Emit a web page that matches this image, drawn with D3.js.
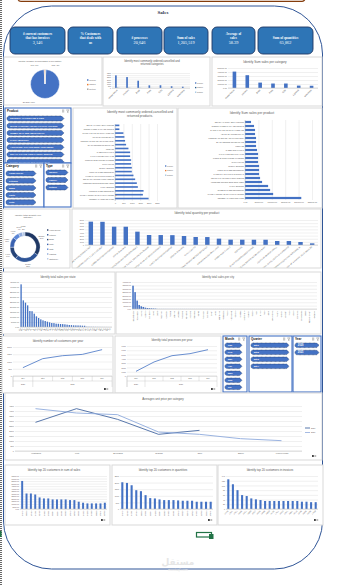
<!DOCTYPE html>
<html><head><meta charset="utf-8">
<script src="https://cdn.jsdelivr.net/npm/d3@7"></script>
<style>body{margin:0;background:#fff}svg{display:block}</style>
</head><body><svg id="c" width="357" height="586"></svg>
<script>
// ---------------- DATA ----------------
const kpiLines=[["# current customers","that has invoices"],["% Customers","that deals with","us"],["# processes"],["Sum of sales"],["Average of","sales"],["Sum of quantities"]];
const kpiValues=["3,146","","20,646","1,205,519","58.39","65,862"];
const processTypes=["Invoice","Cancel","Return"];
const processCounts=[20275,190,181];
const categories=["Home Decor","Kitchen","Bags","Party","Gifts","Lighting","Stationery"];
const catOrdered=[2950,2550,1700,620,640,400,300];
const catCancelled=[60,45,30,12,10,8,6];
const catReturned=[40,35,25,10,9,6,5];
const catSales=[410000,320000,135000,112000,112000,60000,56000];
const catQty=[22350,17800,9100,7250,4600,2900,1862];
const priceCategories=["Vegetables","Fruit","Beverages","Seafood","Dairy","Bakery","Frozen Foods"];
const avgPrice2020=[2867,4233,3167,1667,2067,null,null];
const avgPrice2021=[4233,3800,3633,1900,1667,1233,1033];
const products=["REGENCY CAKESTAND 3 TIER","WHITE HANGING HEART T-LIGHT HOLDER","JUMBO BAG RED RETROSPOT","PARTY BUNTING","ASSORTED COLOUR BIRD ORNAMENT","SET OF 3 CAKE TINS PANTRY DESIGN","PAPER CHAIN KIT 50'S CHRISTMAS","LUNCH BAG RED RETROSPOT","SPOTTY BUNTING","CHILLI LIGHTS","PICNIC BASKET WICKER 60 PIECES","JAM MAKING SET WITH JARS","RABBIT NIGHT LIGHT","POSTAGE","BLACK RECORD COVER FRAME","WOOD BLACK BOARD ANT WHITE FINISH","HEART OF WICKER SMALL","NATURAL SLATE HEART CHALKBOARD","DOORMAT KEEP CALM AND COME IN","SET OF 4 PANTRY JELLY MOULDS"];
const prodOrdered=[2000,1660,1700,1360,1300,1200,1100,1000,1000,960,960,900,900,800,660,600,560,500,260,260];
const prodCancelled=[20,100,15,10,10,8,8,6,6,5,5,5,4,4,3,3,2,2,1,1];
const prodReturned=[15,12,10,9,8,7,6,5,5,4,4,4,3,3,3,2,2,2,1,1];
const prodSales=[210000,105000,93750,86250,63750,56250,52500,52500,52500,48750,48750,48750,45000,41250,41250,41250,37500,37500,33750,22500];
const prodQty=[7470,7420,5870,5850,4270,3200,3180,3150,2880,2560,2540,2030,1710,1700,1690,1680,1280,1270,960,530];
const states=["CA","NY","TX","WA","PA","FL","IL","OH","MI","VA","NC","IN","GA","KY","NJ","AZ","WI","CO","TN","MN","MA","DE","MD","RI","MO","OK","AL","OR","NV","CT","AR","UT","MS","LA","SC","NM","IA","NH","KS","ID","NE","VT"];
const stateSales=[426600,266600,243300,216600,160000,158000,133300,106600,90000,76600,66600,60000,53300,46600,40000,39000,33300,32000,30000,29000,26600,23300,20000,19000,16600,16000,15500,15000,13300,12500,3000,2500,2000,1800,1500,1200,1000,800,600,500,300,200];
const cities=["New York City","Los Angeles","Philadelphia","San Francisco","Seattle","Houston","Chicago","Columbus","San Diego","Springfield","Dallas","Jacksonville","Detroit","Newark","Richmond","Jackson","Columbia","Aurora","Phoenix","Long Beach","Arlington","San Antonio","Louisville","Miami","Rochester","Charlotte","Henderson","Lakewood","Lancaster","Fairfield","Milwaukee","Lawrence","Denver","Baltimore","Pasadena","Cleveland","San Jose","Fayetteville","Salem","Atlanta","Austin","Franklin","Wilmington","Tampa","Providence","Concord","Toledo","Memphis","Minneapolis","Tucson","Orlando","Omaha","Knoxville","Fort Worth","Sacramento","Portland","Oakland","Tulsa","Fresno","Raleigh","Mesa","Madison","Buffalo","Durham","Reno","Boise","Akron","Dayton","Albuquerque","Spokane","Tacoma","Irving","Garland","Lincoln","Anaheim","Hialeah","Plano","Chandler","Laredo","Glendale","Scottsdale","Norfolk","Chesapeake","Lubbock","Gilbert","Irvine","Winston-Salem","Stockton","Hollywood","Yonkers"];
const citySales=[345000,250000,125000,60000,40000,30000,20000,15000,12000,10000,8000,6000,1900,1800,1700,1650,1600,1520,1480,1450,1400,1350,1300,1270,1240,1200,1160,1120,1100,1060,1020,990,960,930,900,880,860,830,810,790,770,750,730,700,690,670,650,620,600,590,570,550,530,510,490,470,450,430,410,390,370,360,340,320,300,290,270,250,240,220,210,200,180,170,160,150,140,130,120,110,100,95,90,80,75,70,60,55,50,40];
const periods=["Qtr4","Qtr1","Qtr2","Qtr3","Qtr4"];
const periodYears=["2020","2021","2021","2021","2021"];
const customersPerPeriod=[575,1195,1400,1490,1816];
const processesPerPeriod=[1090,3270,4740,5210,6140];
const months=["Jan","Feb","Mar","Apr","May","Jun","Jul"];
const quarters=["Qtr1","Qtr2","Qtr3","Qtr4"];
const years=["2020","2021"];
const topSalesCustomers=["14646","18102","17450","14911","12415","14156","17511","16684","13694","15311","13089","17949","15769","15061","14096","14298","14088","15838","17841","13798"];
const topSalesValues=[55250,30550,30550,28600,22750,20800,20800,18850,18850,18850,18850,17550,17550,14300,12350,11050,11050,11050,11050,12350];
const topQtyCustomers=["14646","12415","14911","17450","18102","17511","13694","14298","16684","13089","14156","15311","17949","16029","12346","15769","14096","13798","16333","17841"];
const topQtyValues=[2025,1975,1800,1425,1350,1050,825,800,725,675,675,675,650,625,625,625,550,550,550,550];
const topInvCustomers=["12748","17841","14911","14606","15311","13089","14527","14646","13408","16029","14156","17511","16422","12971","15061","18118","13798","15838","14298","17450"];
const topInvValues=[126,105,80,59,55,45,41,38,34,34,34,34,34,34,34,34,31,31,29,29];

// ---------------- SETUP ----------------
const W=357,H=586;
const svg=d3.select('#c');
const FONT='"Liberation Sans", Arial, sans-serif';
const SERIF='"Liberation Serif","Times New Roman",serif';
const BLUE='#4472c4', GRID='#d9d9d9', TXT='#595959';
const seriesCols=['#4472c4','#255e91','#9dc3e6'];
const fmt2=d3.format('.2f'), fmtD=d3.format('d'), fmtC=d3.format(',');
const defs=svg.append('defs');
let clipN=0;
function clip(x,y,w,h){const id='cl'+(clipN++);defs.append('clipPath').attr('id',id).attr('clipPathUnits','userSpaceOnUse').append('rect').attr('x',x).attr('y',y).attr('width',w).attr('height',h);return `url(#${id})`;}

function panel(x,y,w,h){svg.append('rect').attr('x',x).attr('y',y).attr('width',w).attr('height',h).attr('fill','#fff').attr('stroke','#d9d9d9').attr('stroke-width',1);}
function ptitle(cx,y,lines,fs){lines.forEach((l,i)=>svg.append('text').attr('x',cx).attr('y',y+i*fs*1.2).attr('text-anchor','middle').attr('font-family',FONT).attr('font-size',fs).attr('fill',TXT).text(l));}
function styleAxis(g,fs){g.attr('font-family',FONT);g.select('.domain').remove();g.selectAll('line').attr('stroke',GRID).attr('stroke-width',0.4);g.selectAll('text').attr('font-size',fs).attr('fill',TXT);}
function xLabels(xs,y,fs,rot,every,fmt,cp){
  const ax=d3.axisBottom(xs).tickSize(0).tickPadding(0);
  if(every>1) ax.tickValues(xs.domain().filter((d,i)=>i%every===0));
  if(fmt) ax.tickFormat(fmt);
  const outer=svg.append('g');
  if(cp) outer.attr('clip-path',cp);
  const g=outer.append('g').attr('transform',`translate(0,${y})`).call(ax);
  styleAxis(g,fs);
  if(rot){g.selectAll('text').attr('y',0).attr('x',-0.4).attr('dy','0.35em').attr('text-anchor','end').attr('transform',`translate(0,0.8) rotate(${rot})`);}
  else g.selectAll('text').attr('dy','1.1em');
}
function vbar(o){
  const xs=d3.scaleBand().domain(o.cats).range([o.x,o.x+o.w]).paddingInner(o.pi).paddingOuter(o.pi/2);
  const ys=d3.scaleLinear().domain([0,o.max]).range([o.y+o.h,o.y]);
  const ga=svg.append('g').attr('transform',`translate(${o.x},0)`).call(d3.axisLeft(ys).tickValues(d3.range(0,o.max+o.step/2,o.step)).tickSize(-o.w).tickPadding(1).tickFormat(o.fmt));
  styleAxis(ga,o.yfs);
  const n=o.series.length;
  const sub=d3.scaleBand().domain(d3.range(n)).range([0,xs.bandwidth()]);
  o.series.forEach((s,si)=>{
    svg.append('g').selectAll('rect').data(s.vals).join('rect')
      .attr('x',(v,i)=>xs(o.cats[i])+sub(si)).attr('width',sub.bandwidth())
      .attr('y',v=>ys(v)).attr('height',v=>ys(0)-ys(v)).attr('fill',s.color);
  });
  svg.append('line').attr('x1',o.x).attr('x2',o.x+o.w).attr('y1',ys(0)).attr('y2',ys(0)).attr('stroke','#bfbfbf').attr('stroke-width',0.5);
  xLabels(xs,o.y+o.h+0.6,o.xfs,o.rot,o.every||1,null,o.cp);
}
function hbar(o){
  const ys=d3.scaleBand().domain(o.cats.slice().reverse()).range([o.y,o.y+o.h]).paddingInner(o.pi).paddingOuter(o.pi/2);
  const xs=d3.scaleLinear().domain([0,o.max]).range([o.x,o.x+o.w]);
  const ga=svg.append('g').attr('transform',`translate(0,${o.y+o.h})`).call(d3.axisBottom(xs).tickValues(d3.range(0,o.max+o.step/2,o.step)).tickSize(-o.h).tickPadding(1.5).tickFormat(o.fmt));
  styleAxis(ga,o.xfs);
  ga.selectAll('text').attr('dy','0.9em');
  const n=o.series.length;
  const main=o.mainFrac||1/n;
  // first series gets 'main' share of band, others split the rest
  const bw=ys.bandwidth();
  o.series.forEach((s,si)=>{
    const off=si===0?0:bw*main+(si-1)*bw*(1-main)/(n-1);
    const hh=si===0?bw*main:bw*(1-main)/(n-1);
    svg.append('g').selectAll('rect').data(s.vals).join('rect')
      .attr('y',(v,i)=>ys(o.cats[i])+off).attr('height',hh)
      .attr('x',xs(0)).attr('width',v=>xs(v)-xs(0)).attr('fill',s.color);
  });
  svg.append('line').attr('x1',xs(0)).attr('x2',xs(0)).attr('y1',o.y).attr('y2',o.y+o.h).attr('stroke','#bfbfbf').attr('stroke-width',0.5);
  const gl=svg.append('g').attr('transform',`translate(${o.x-0.5},0)`).call(d3.axisLeft(ys).tickSize(0).tickPadding(0.5));
  styleAxis(gl,o.lfs);
}
function legend(x,y,labels,cols,fs,step){
  labels.forEach((l,i)=>{
    svg.append('rect').attr('x',x).attr('y',y+i*step-fs*0.35).attr('width',fs*0.7).attr('height',fs*0.7).attr('fill',cols[i]);
    svg.append('text').attr('x',x+fs*1.1).attr('y',y+i*step+fs*0.35).attr('font-family',FONT).attr('font-size',fs).attr('fill',TXT).text(l);
  });
}
function lineChart(o){
  const xs=d3.scalePoint().domain(d3.range(o.n)).range([o.x,o.x+o.w]).padding(0.5);
  const ys=d3.scaleLinear().domain([0,o.max]).range([o.y+o.h,o.y]);
  const ga=svg.append('g').attr('transform',`translate(${o.x},0)`).call(d3.axisLeft(ys).tickValues(d3.range(0,o.max+o.step/2,o.step)).tickSize(-o.w).tickPadding(1.2).tickFormat(fmtD));
  styleAxis(ga,o.yfs);
  o.series.forEach(s=>{
    svg.append('path').attr('d',d3.line().defined(v=>v!=null).x((v,i)=>xs(i)).y(v=>ys(v))(s.vals))
      .attr('fill','none').attr('stroke',s.color).attr('stroke-width',s.w||0.8);
  });
  svg.append('line').attr('x1',o.x).attr('x2',o.x+o.w).attr('y1',ys(0)).attr('y2',ys(0)).attr('stroke','#bfbfbf').attr('stroke-width',0.5);
  return {xs,ys};
}
function periodAxis(xs,x0,x1,y,fs){
  const step=xs.step();
  const g=svg.append('g');
  const L=(a,b,c,d)=>g.append('line').attr('x1',a).attr('x2',c).attr('y1',b).attr('y2',d).attr('stroke','#bfbfbf').attr('stroke-width',0.4);
  L(x0,y+5,x1,y+5);
  periods.forEach((p,i)=>{
    const cx=xs(i);
    g.append('text').attr('x',cx).attr('y',y+3.2).attr('text-anchor','middle').attr('font-family',FONT).attr('font-size',fs).attr('fill',TXT).text(p);
    L(cx-step/2,y,cx-step/2,y+5);
  });
  L(x1,y,x1,y+11);L(x0,y,x0,y+11);
  const groups=d3.groups(periods.map((p,i)=>i),i=>periodYears[i]);
  groups.forEach(([yr,idx])=>{
    const a=xs(idx[0])-step/2,b=xs(idx[idx.length-1])+step/2;
    L(a,y+5,a,y+11);
    g.append('text').attr('x',(a+b)/2).attr('y',y+8.8).attr('text-anchor','middle').attr('font-family',FONT).attr('font-size',fs).attr('fill',TXT).text(yr);
  });
}
function btnPath(x,y,w,h){const r=h/2;return `M${x+r},${y}L${x+w-r},${y}L${x+w},${y+r}L${x+w-r},${y+h}L${x+r},${y+h}A${r},${r} 0 0 1 ${x+r},${y}Z`;}
function slicer(x,y,w,h,header,items,bx,bw,by,bstep,bh,fs){
  svg.append('rect').attr('x',x).attr('y',y).attr('width',w).attr('height',h).attr('fill','#fff').attr('stroke','#4472c4').attr('stroke-width',1.1);
  svg.append('text').attr('x',x+2).attr('y',y+4.2).attr('font-family',FONT).attr('font-weight','bold').attr('font-size',3).attr('fill','#111').text(header);
  svg.append('path').attr('d',`M${x+w-9},${y+2}h2.2M${x+w-9},${y+3}h2.2M${x+w-9},${y+4}h2.2`).attr('stroke','#666').attr('stroke-width',0.4);
  svg.append('path').attr('d',`M${x+w-4.5},${y+1.8}h2.6l-1,1.4v1.6l-0.6,-0.4v-1.2z`).attr('fill','none').attr('stroke','#666').attr('stroke-width',0.35);
  const cp=clip(x,y,w,h);
  const g=svg.append('g').attr('clip-path',cp);
  items.forEach((t,i)=>{
    const yy=by+i*bstep;
    g.append('path').attr('d',btnPath(bx,yy,bw,bh)).attr('fill','#4472c4').attr('stroke','#1f3864').attr('stroke-width',0.6).attr('stroke-dasharray','0.8,0.5');
    g.append('text').attr('x',bx+bh*0.6).attr('y',yy+bh/2+fs*0.35).attr('font-family',FONT).attr('font-weight','bold').attr('font-size',fs).attr('fill','#fff').text(t);
  });
}
function cornerIcon(x,y){svg.append('rect').attr('x',x).attr('y',y).attr('width',1.8).attr('height',2).attr('fill','#444');svg.append('rect').attr('x',x+2.4).attr('y',y).attr('width',1.8).attr('height',2).attr('fill','#bbb');}

// ---------------- BACKGROUND / FRAME ----------------
svg.append('line').attr('x1',1).attr('x2',1).attr('y1',0).attr('y2',H).attr('stroke','#444').attr('stroke-width',1.6).attr('stroke-dasharray','1,1');
svg.append('rect').attr('x',0).attr('y',531).attr('width',1.6).attr('height',6).attr('fill','#217346');
svg.append('rect').attr('x',18).attr('y',-12).attr('width',287).attr('height',13.4).attr('rx',3).attr('fill','none').attr('stroke','#843c0c').attr('stroke-width',1.2);
svg.append('rect').attr('x',3.5).attr('y',6).attr('width',319).attr('height',563).attr('rx',48).attr('fill','#fff').attr('stroke','#2f5597').attr('stroke-width',1);
svg.append('text').attr('x',163).attr('y',14).attr('text-anchor','middle').attr('font-family',SERIF).attr('font-weight','bold').attr('font-size',5).attr('fill','#1f2a44').text('Sales');

// ---------------- KPI CARDS ----------------
const cardX=[10,68,117,164,212,258], cardW=[55,45,45,44,43,55];
kpiLines.forEach((lines,i)=>{
  const x=cardX[i],w=cardW[i],cx=x+w/2;
  svg.append('rect').attr('x',x).attr('y',27).attr('width',w).attr('height',27).attr('rx',5).attr('fill','#2e75b6').attr('stroke','#1f3864').attr('stroke-width',0.9);
  const n=lines.length+(kpiValues[i]?1:0);
  const y0=n===2?38.5:n===3?34.5:32.5;
  lines.forEach((l,j)=>svg.append('text').attr('x',cx).attr('y',y0+j*4.6).attr('text-anchor','middle').attr('font-family',SERIF).attr('font-weight','bold').attr('font-size',3.4).attr('fill','#fff').text(l));
  if(kpiValues[i]) svg.append('text').attr('x',cx).attr('y',y0+lines.length*4.6+0.6).attr('text-anchor','middle').attr('font-family',SERIF).attr('font-size',4.3).attr('fill','#fff').text(kpiValues[i]);
});

// ---------------- PANEL A: processes pie ----------------
panel(4,57,98,48);
ptitle(40,62,["Identify number of processes in our factory"],2.3);
{
  const tot=d3.sum(processCounts);
  const a0=Math.PI*(processCounts[1]+processCounts[2])/tot;
  const pie=d3.pie().sort(null).startAngle(a0).endAngle(a0+2*Math.PI)(processCounts);
  const arc=d3.arc().innerRadius(0).outerRadius(14.5);
  const cols=['#4472c4','#ed7d31','#a5a5a5'];
  const g=svg.append('g').attr('transform','translate(45,84)');
  g.selectAll('path').data(pie).join('path').attr('d',arc).attr('fill',(d,i)=>cols[i]).attr('stroke','#fff').attr('stroke-width',0.5);
  const la=d3.arc().innerRadius(18).outerRadius(18);
  const dx=[-10,-6,6];
  pie.forEach((d,i)=>{
    const [cx,cy]=la.centroid(d);
    g.append('text').attr('x',cx+dx[i]).attr('y',cy+(i===0?1:0)).attr('text-anchor',i===2?'start':'end').attr('font-family',FONT).attr('font-size',2.2).attr('fill',TXT)
      .text(fmtC(processCounts[i])+', '+Math.round(processCounts[i]/tot*100)+'%');
  });
  legend(87,80,processTypes,cols,2.1,4.6);
}

// ---------------- PANEL B ----------------
panel(103,57,107,49);
ptitle(152,61.5,["Identify most commonly ordered,cancelled and","returned categories"],2.7);
vbar({x:112,y:73,w:78,h:15,cats:categories,series:[{vals:catOrdered,color:seriesCols[0]},{vals:catCancelled,color:seriesCols[1]},{vals:catReturned,color:seriesCols[2]}],max:3500,step:500,fmt:fmtD,yfs:1.8,xfs:2.2,rot:-45,pi:0.55,cp:clip(103,88,107,17)});
legend(195,83,processTypes,seriesCols,1.9,4.6);

// ---------------- PANEL C ----------------
panel(212,57,110,49);
ptitle(265,63,["Identify Sum sales per category"],3.1);
vbar({x:228,y:68,w:90,h:20,cats:categories,series:[{vals:catSales,color:BLUE}],max:500000,step:100000,fmt:fmt2,yfs:2,xfs:2.2,rot:-45,pi:0.72,cp:clip(212,88,110,17)});

// ---------------- LEFT SLICERS ----------------
slicer(5,108,66,55,"Product",products.slice(0,7),7,57,116,7.2,5,2.3);
slicer(4,163,40,44,"Category",categories.slice(0,5),6,30,171,7.2,5,2.4);
slicer(44,163,27,44,"Type",processTypes,46,22,170,7.5,5,2.4);

// ---------------- PANEL D ----------------
panel(73,108,104,100);
ptitle(140,113,["Identify most commonly ordered,cancelled and","returned products."],3.2);
hbar({x:115,y:124,w:42,h:77,cats:products,series:[{vals:prodOrdered,color:seriesCols[0]},{vals:prodCancelled,color:'#ed7d31'},{vals:prodReturned,color:seriesCols[2]}],max:2500,step:500,fmt:fmtD,xfs:2,lfs:1.7,pi:0.3,mainFrac:0.6});
legend(165,166,processTypes,[seriesCols[0],'#ed7d31',seriesCols[2]],1.9,4.6);

// ---------------- PANEL E ----------------
panel(178,108,144,100);
ptitle(252,114,["Identify Sum sales per product"],3.3);
hbar({x:245,y:120,w:67,h:80,cats:products,series:[{vals:prodSales,color:BLUE}],max:250000,step:50000,fmt:fmt2,xfs:2,lfs:1.8,pi:0.45});

// ---------------- PANEL F ----------------
panel(3,209,67,59);
ptitle(28,215.5,["Identify total quantity per","category"],2.4);
{
  const tot=d3.sum(catQty);
  const pie=d3.pie().sort(null)(catQty);
  const arc=d3.arc().innerRadius(11).outerRadius(15);
  const cols=['#203864','#2f5597','#264478','#3a62b0','#5b86d6','#8faadc','#b4c7e7'];
  const g=svg.append('g').attr('transform','translate(25,247)');
  g.selectAll('path').data(pie).join('path').attr('d',arc).attr('fill',(d,i)=>cols[i]).attr('stroke','#fff').attr('stroke-width',0.3);
  const la=d3.arc().innerRadius(19).outerRadius(19);
  pie.forEach((d,i)=>{
    const [cx,cy]=la.centroid(d);
    const t=g.append('text').attr('x',cx).attr('y',cy-0.6).attr('text-anchor','middle').attr('font-family',FONT).attr('font-size',1.9).attr('fill',TXT);
    t.append('tspan').attr('x',cx).text(fmtC(catQty[i])+',');
    t.append('tspan').attr('x',cx).attr('dy',2.1).text(Math.round(catQty[i]/tot*100)+'%');
  });
  legend(47,230,categories,cols,2,4.8);
}

// ---------------- PANEL G ----------------
panel(72,209,249,59);
ptitle(197,214,["Identify total quantity per product"],3.1);
vbar({x:85,y:220,w:233,h:25,cats:products,series:[{vals:prodQty,color:BLUE}],max:8000,step:1000,fmt:fmtD,yfs:1.9,xfs:2,rot:-40,pi:0.62,cp:clip(72,245,249,22.5)});

// ---------------- PANEL H ----------------
panel(2,272,113,62);
ptitle(58,277.5,["Identify total sales per state"],2.9);
vbar({x:20,y:282,w:92,h:45,cats:states,series:[{vals:stateSales,color:BLUE}],max:450000,step:50000,fmt:fmt2,yfs:1.9,xfs:1.9,rot:-45,pi:0.4,cp:clip(2,327,113,6.5)});

// ---------------- PANEL I ----------------
panel(116,272,205,62);
ptitle(218,277.5,["Identify total sales per city"],2.8);
vbar({x:132,y:282,w:185,h:27,cats:cities,series:[{vals:citySales,color:BLUE}],max:400000,step:50000,fmt:fmt2,yfs:1.8,xfs:1.8,rot:-90,every:2,pi:0.25,cp:clip(116,309,205,24.5)});

// ---------------- PANEL J ----------------
panel(2,336,111,57);
ptitle(58,341.5,["Identify number of customers per year"],3);
{
  const r=lineChart({x:13,y:347,w:99,h:29,n:periods.length,max:2000,step:500,yfs:2,series:[{vals:customersPerPeriod,color:BLUE}]});
  periodAxis(r.xs,13,112,376,1.8);
  cornerIcon(104,388);
}

// ---------------- PANEL K ----------------
panel(115,336,106,57);
ptitle(172,340.5,["Identify total processes per year"],2.9);
{
  const r=lineChart({x:127,y:346,w:90,h:30,n:periods.length,max:7000,step:1000,yfs:1.9,series:[{vals:processesPerPeriod,color:BLUE}]});
  periodAxis(r.xs,127,217,376,1.8);
  cornerIcon(211,388);
}

// ---------------- DATE SLICERS ----------------
slicer(223,336,24,56,"Month",months,225,17,343,7,4.6,2.5);
slicer(249,336,43,56,"Quarter",quarters,251,38,343,7,4.6,2.5);
slicer(293,336,28,56,"Year",years,295,24,343,7.2,4.6,2.6);

// ---------------- PANEL L ----------------
panel(5,393,317,67);
ptitle(163,399.5,["Averages unit price per category"],2.9);
{
  const r=lineChart({x:15,y:406,w:287,h:45,n:priceCategories.length,max:4500,step:500,yfs:2,series:[{vals:avgPrice2020,color:'#2f5597',w:0.8},{vals:avgPrice2021,color:'#8faadc',w:0.9}]});
  const g=svg.append('g').attr('transform','translate(0,451)').call(d3.axisBottom(r.xs).tickSize(0).tickPadding(1.2).tickFormat(i=>priceCategories[i]));
  styleAxis(g,2);g.selectAll('text').attr('dy','0.8em');
  ['2020','2021'].forEach((t,i)=>{
    svg.append('line').attr('x1',305).attr('x2',310).attr('y1',428+i*4.5).attr('y2',428+i*4.5).attr('stroke',i?'#8faadc':'#2f5597').attr('stroke-width',0.8);
    svg.append('text').attr('x',311).attr('y',428.7+i*4.5).attr('font-family',FONT).attr('font-size',1.9).attr('fill',TXT).text(t);
  });
  cornerIcon(312,455);
}

// ---------------- TOP 20 CUSTOMERS ----------------
panel(5,465,105,60);
ptitle(54,470.5,["Identify top 20 customers in sum of sales"],2.9);
vbar({x:20,y:476,w:87,h:33,cats:topSalesCustomers,series:[{vals:topSalesValues,color:BLUE}],max:65000,step:5000,fmt:fmt2,yfs:1.8,xfs:1.9,rot:-90,pi:0.55,cp:clip(5,509,105,9)});
cornerIcon(101,519);

panel(112,465,105,60);
ptitle(163,470.5,["Identify top 20 customers  in quantities"],2.9);
vbar({x:120,y:476,w:93,h:33,cats:topQtyCustomers,series:[{vals:topQtyValues,color:BLUE}],max:2500,step:500,fmt:fmtD,yfs:1.9,xfs:1.9,rot:-90,pi:0.55,cp:clip(112,509,105,9)});
cornerIcon(208,519);

panel(218,465,105,60);
ptitle(270,470.5,["Identify top 20 customers in invoices"],2.9);
vbar({x:226,y:476,w:92,h:33,cats:topInvCustomers,series:[{vals:topInvValues,color:BLUE}],max:140,step:20,fmt:fmtD,yfs:1.9,xfs:1.9,rot:-45,pi:0.55,cp:clip(218,509,105,9)});
cornerIcon(314,519);

// ---------------- FOOTER ----------------
svg.append('rect').attr('x',196.5).attr('y',532.5).attr('width',15).attr('height',4.5).attr('fill','none').attr('stroke','#217346').attr('stroke-width',1.2);
svg.append('rect').attr('x',209).attr('y',534).attr('width',4.5).attr('height',5).attr('fill','#217346');
svg.append('text').attr('x',178).attr('y',565).attr('text-anchor','middle').attr('font-family','"Noto Sans", "DejaVu Sans", sans-serif').attr('font-size',9).attr('font-weight','bold').attr('fill','#e6e6e6').text('مستقل');
svg.append('text').attr('x',178).attr('y',571).attr('text-anchor','middle').attr('font-family',FONT).attr('font-size',3.5).attr('fill','#e6e6e6').text('mostaql.com');
</script></body></html>
